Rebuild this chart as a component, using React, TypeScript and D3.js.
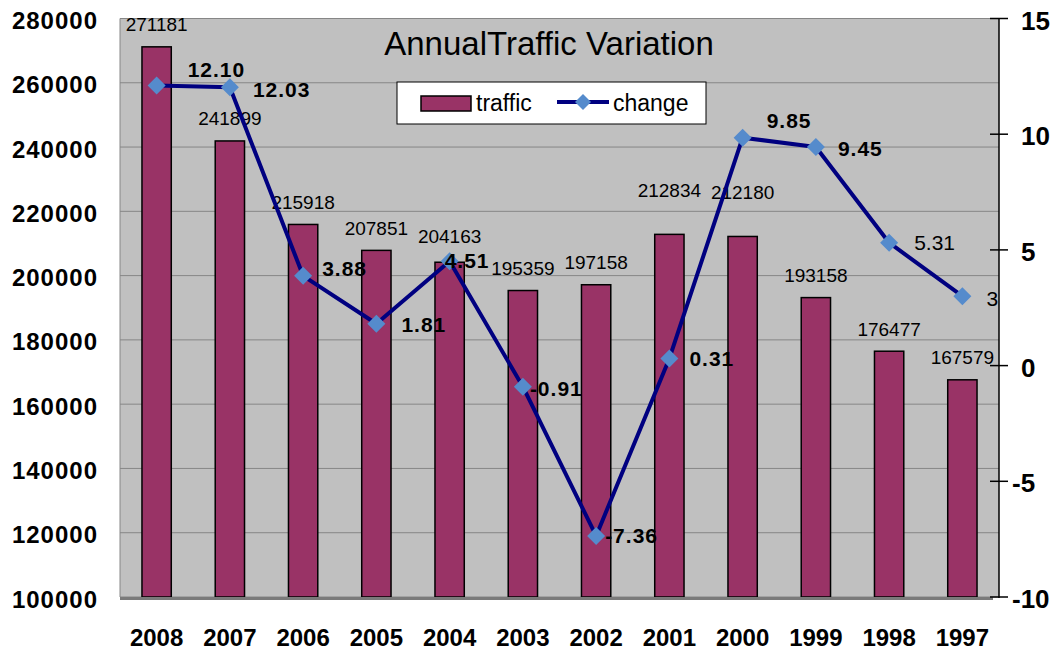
import React from "react";
import * as d3 from "d3";

const years = ["2008", "2007", "2006", "2005", "2004", "2003", "2002", "2001", "2000", "1999", "1998", "1997"];
const traffic = [271181, 241899, 215918, 207851, 204163, 195359, 197158, 212834, 212180, 193158, 176477, 167579];
const change = [12.1, 12.03, 3.88, 1.81, 4.51, -0.91, -7.36, 0.31, 9.85, 9.45, 5.31, 3];
const changeLabels = ["12.10", "12.03", "3.88", "1.81", "4.51", "-0.91", "-7.36", "0.31", "9.85", "9.45", "5.31", "3"];
const leftTicks = [100000, 120000, 140000, 160000, 180000, 200000, 220000, 240000, 260000, 280000];
const rightTicks = [-10, -5, 0, 5, 10, 15];

// layout only (label placement offsets relative to their marks)
const changeLabelOffsets: [number, number][] = [
  [31, -16], [23, 2], [19, -7], [25, 1], [-5, -1], [7, 2],
  [9, 0], [20, 0], [24, -17], [22, 2], [25, 0], [24, 2],
];
const changeLabelBold = [true, true, true, true, true, true, true, true, true, true, false, false];
const barLabelShift = [0, 0, 0, 0, -4, 0, 0, -22, -22, 0, 0, 0];

const W = 1062;
const H = 650;
const L = 120;
const R = 999;
const T = 18.5;
const B = 597;

const FONT = "Arial, 'Liberation Sans', sans-serif";

export default function App() {
  const x = d3.scaleBand<string>().domain(years).range([L, R]).paddingInner(0.6).paddingOuter(0.3);
  const yL = d3.scaleLinear().domain([100000, 280000]).range([B, T]);
  const yR = d3.scaleLinear().domain([-10, 15]).range([B, T]);
  const cx = (d: string) => (x(d) as number) + x.bandwidth() / 2;

  const line = d3
    .line<number>()
    .x((_, i) => cx(years[i]))
    .y((v) => yR(v));

  const diamond = (px: number, py: number, r: number) =>
    `M${px},${py - r}L${px + r},${py}L${px},${py + r}L${px - r},${py}Z`;

  return (
    <svg width={W} height={H} style={{ position: "absolute", left: 0, top: 0, background: "#fff" }} fontFamily={FONT}>
      <rect x={0} y={0} width={W} height={H} fill="#fff" />
      {/* plot area */}
      <rect x={L} y={T} width={R - L} height={B - T} fill="#C0C0C0" />
      {leftTicks.map((t) => (
        <line key={t} x1={L} x2={R} y1={yL(t)} y2={yL(t)} stroke="#868686" strokeWidth={1} />
      ))}
      <line x1={L} x2={L} y1={T} y2={B} stroke="#868686" strokeWidth={1} />
      {/* bars */}
      {years.map((yv, i) => (
        <rect
          key={yv}
          x={x(yv)}
          y={yL(traffic[i])}
          width={x.bandwidth()}
          height={B - yL(traffic[i])}
          fill="#993366"
          stroke="#000"
          strokeWidth={1.5}
        />
      ))}
      {/* floor */}
      <line x1={L} x2={R - 6} y1={B + 1.5} y2={B + 1.5} stroke="#7a7a7a" strokeWidth={3} />
      {/* right axis */}
      <line x1={R} x2={R} y1={T} y2={B + 1} stroke="#000" strokeWidth={1.5} />
      {rightTicks.map((t) => (
        <line key={t} x1={R - 9} x2={R + 9} y1={yR(t)} y2={yR(t)} stroke="#000" strokeWidth={1.5} />
      ))}
      {rightTicks.map((t) => (
        <text
          key={t}
          x={1021 - (t < 0 ? 9 : 0)}
          y={yR(t) + 2}
          fontSize={26}
          fontWeight="bold"
          dominantBaseline="central"
          fill="#000"
        >
          {t}
        </text>
      ))}
      {/* left axis labels */}
      {leftTicks.map((t) => (
        <text
          key={t}
          x={98}
          y={yL(t) + 2}
          fontSize={24}
          fontWeight="bold"
          letterSpacing={1}
          textAnchor="end"
          dominantBaseline="central"
          fill="#000"
        >
          {t}
        </text>
      ))}
      {/* x labels */}
      {years.map((yv) => (
        <text key={yv} x={cx(yv)} y={646} fontSize={24} fontWeight="bold" textAnchor="middle" fill="#000">
          {yv}
        </text>
      ))}
      {/* bar value labels */}
      {years.map((yv, i) => (
        <text
          key={yv}
          x={cx(yv)}
          y={yL(traffic[i]) - 15.5 + barLabelShift[i]}
          fontSize={19}
          textAnchor="middle"
          fill="#000"
        >
          {traffic[i]}
        </text>
      ))}
      {/* change line */}
      <path d={line(change) as string} fill="none" stroke="#000080" strokeWidth={4} strokeLinejoin="round" />
      {change.map((v, i) => (
        <path key={i} d={diamond(cx(years[i]), yR(v), 9)} fill="#558BCC" />
      ))}
      {change.map((v, i) => (
        <text
          key={i}
          x={cx(years[i]) + changeLabelOffsets[i][0]}
          y={yR(v) + changeLabelOffsets[i][1]}
          fontSize={21}
          fontWeight={changeLabelBold[i] ? "bold" : "normal"}
          letterSpacing={changeLabelBold[i] ? 1 : 0}
          dominantBaseline="central"
          fill="#000"
        >
          {changeLabels[i]}
        </text>
      ))}
      {/* title */}
      <text x={549} y={55} fontSize={33} textAnchor="middle" fill="#000">
        AnnualTraffic Variation
      </text>
      {/* legend */}
      <rect x={397} y={82} width={309} height={42} fill="#fff" stroke="#000" strokeWidth={1} />
      <rect x={421} y={96} width={50} height={15} fill="#993366" stroke="#000" strokeWidth={1.5} />
      <text x={476} y={111} fontSize={23} fill="#000">traffic</text>
      <line x1={557} x2={609} y1={102} y2={102} stroke="#000080" strokeWidth={4} />
      <path d={diamond(583, 102, 8)} fill="#558BCC" />
      <text x={613} y={111} fontSize={23} fill="#000">change</text>
    </svg>
  );
}
